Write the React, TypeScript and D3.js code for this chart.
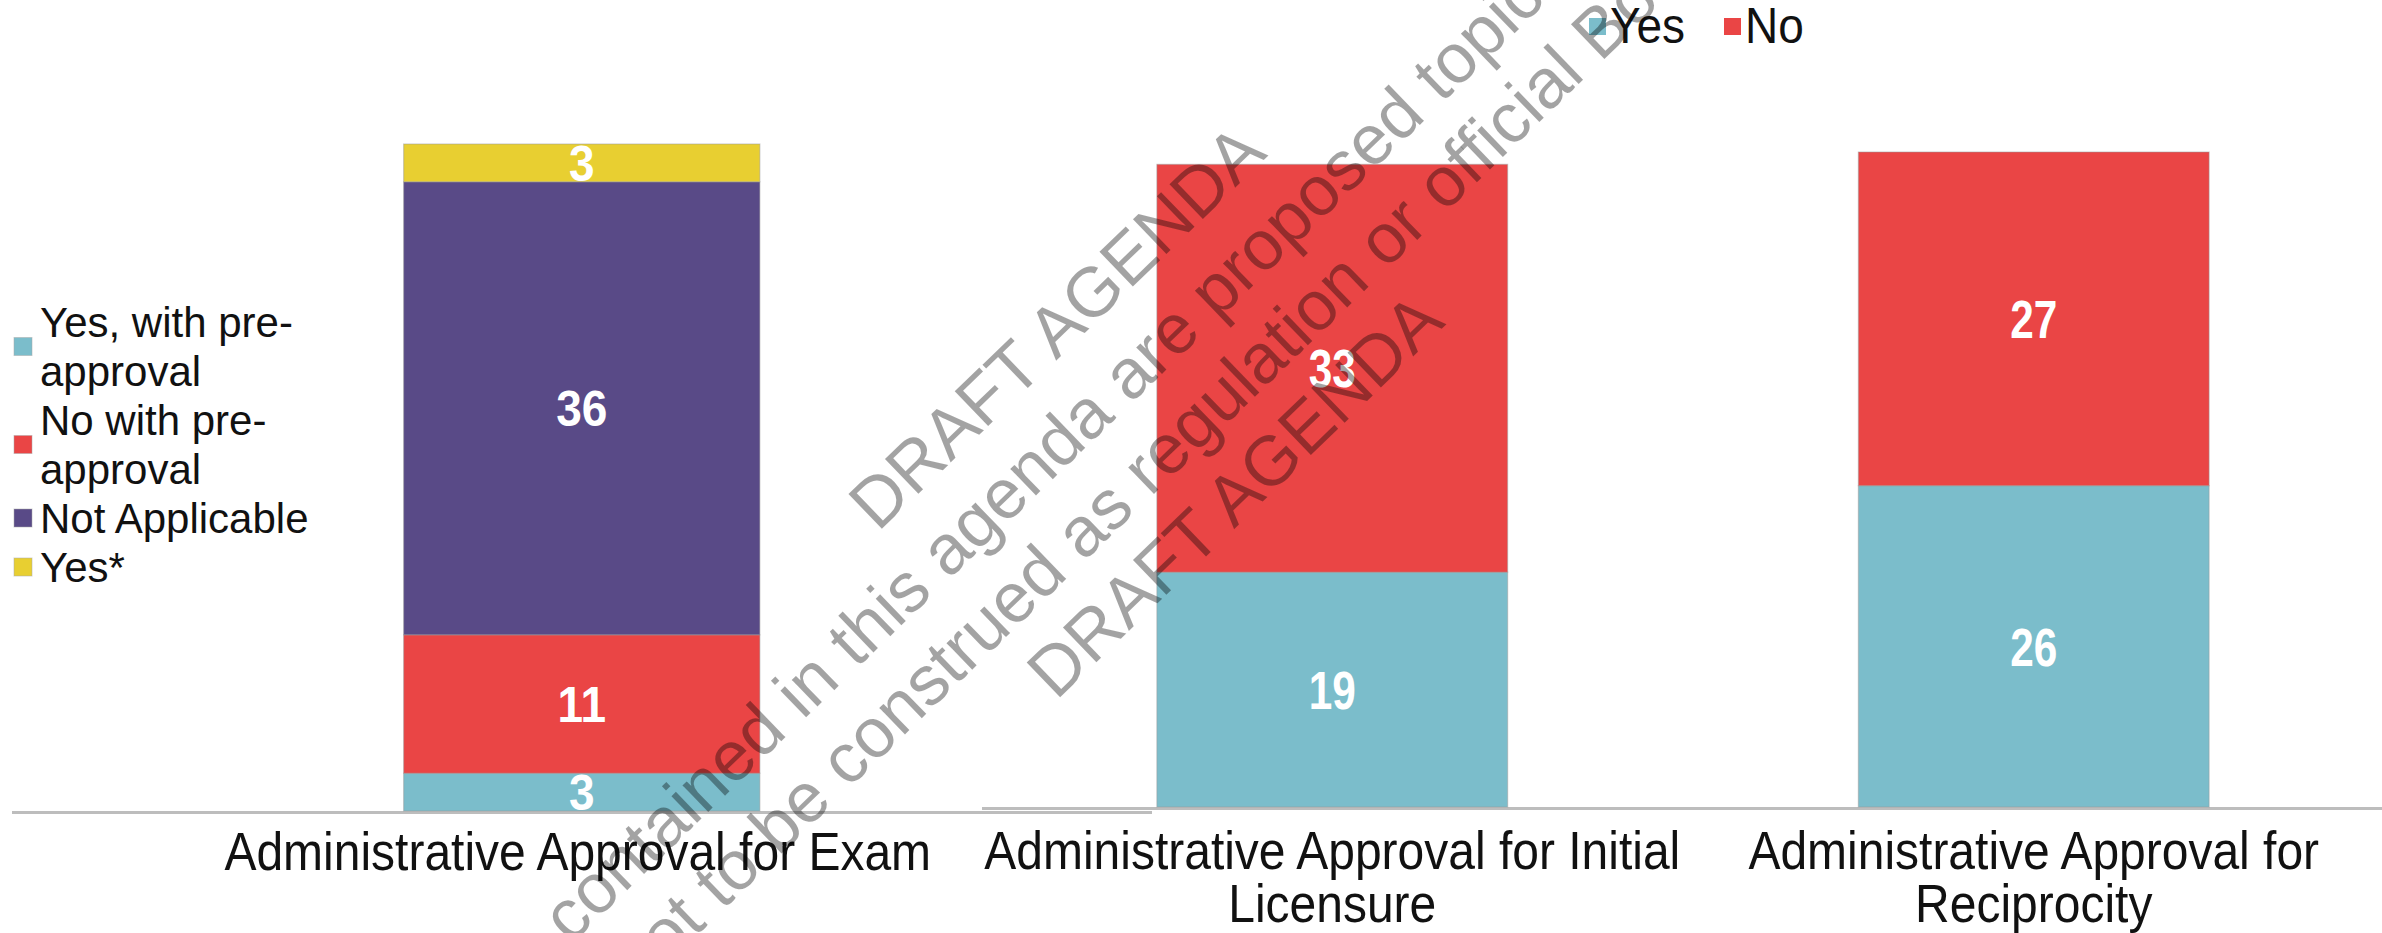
import React from "react";
import * as d3 from "d3";

const W = 2382;
const H = 933;
const FONT = "'Liberation Sans', Arial, Helvetica, sans-serif";

// ---- Left chart data ----
const leftCategories = ["Administrative Approval for Exam"];
const leftSeries = ["Yes, with pre-approval", "No with pre-approval", "Not Applicable", "Yes*"];
const leftYesPre = [3];
const leftNoPre = [11];
const leftNotApplicable = [36];
const leftYesStar = [3];
const leftColors = ["#7BBDCB", "#EA4545", "#594A87", "#E8CF31"];

// ---- Right chart data ----
const rightCategories = [
  ["Administrative Approval for Initial", "Licensure"],
  ["Administrative Approval for", "Reciprocity"],
];
const rightSeries = ["Yes", "No"];
const rightYes = [19, 26];
const rightNo = [33, 27];
const rightColors = ["#7BBDCB", "#EA4545"];

// ---- Watermark text ----
const watermarkLines = [
  "DRAFT AGENDA",
  "contained in this agenda are proposed topics",
  "construed as regulation or official Board action",
  "DRAFT AGENDA",
];
const watermarkPrefixes = ["", "Subjects\u00A0", "and are not to be\u00A0", ""];

function wrapLegend(s: string): string[] {
  const i = s.indexOf("pre-");
  if (i >= 0) return [s.slice(0, i + 4), s.slice(i + 4)];
  return [s];
}

export default function App() {
  // Left chart
  const leftKeys = leftSeries;
  const leftRows = leftCategories.map((c, i) => ({
    cat: c,
    [leftKeys[0]]: leftYesPre[i],
    [leftKeys[1]]: leftNoPre[i],
    [leftKeys[2]]: leftNotApplicable[i],
    [leftKeys[3]]: leftYesStar[i],
  }));
  const leftStack = d3.stack<any>().keys(leftKeys)(leftRows);
  const leftMax = d3.max(leftStack[leftStack.length - 1], (d) => d[1]) as number;
  const xL = d3.scaleBand().domain(leftCategories).range([225.5, 938]).paddingInner(0.5).paddingOuter(0.25);
  const yL = d3.scaleLinear().domain([0, leftMax]).range([811, 144]);

  // Right chart
  const rightNames = rightCategories.map((c) => c.join(" "));
  const rightRows = rightNames.map((c, i) => ({ cat: c, Yes: rightYes[i], No: rightNo[i] }));
  const rightStack = d3.stack<any>().keys(rightSeries)(rightRows);
  const rightMax = d3.max(rightStack[rightStack.length - 1], (d) => d[1]) as number;
  const xR = d3.scaleBand().domain(rightNames).range([981.5, 2384.5]).paddingInner(0.5).paddingOuter(0.25);
  const yR = d3.scaleLinear().domain([0, rightMax]).range([807, 152]);

  const labelScale = 1.1;
  const valueScale = 1.08;

  return (
    <svg
      width={W}
      height={H}
      viewBox={`0 0 ${W} ${H}`}
      style={{ position: "absolute", left: 0, top: 0, display: "block", background: "#fff" }}
      fontFamily={FONT}
    >
      <rect x={0} y={0} width={W} height={H} fill="#fff" />

      {/* Left chart baseline */}
      <line x1={12} x2={1152} y1={812.5} y2={812.5} stroke="#BDBDBD" strokeWidth={3} />
      {/* Right chart baseline */}
      <line x1={982} x2={W} y1={808.5} y2={808.5} stroke="#BDBDBD" strokeWidth={3} />

      {/* Left bars */}
      {leftStack.map((layer, si) => (
        <g key={"L" + si}>
          {layer.map((d: any, ci) => {
            const cat = leftCategories[ci];
            const x = xL(cat) as number;
            const y0 = yL(d[0]);
            const y1 = yL(d[1]);
            return (
              <g key={ci}>
                <rect x={x} y={y1} width={xL.bandwidth()} height={y0 - y1} fill={leftColors[si]} stroke="#9a9a9a" strokeOpacity={0.45} strokeWidth={1.2} />
                <text
                  transform={`translate(${x + xL.bandwidth() / 2},${(y0 + y1) / 2}) scale(1,${valueScale})`}
                  textAnchor="middle"
                  dy="0.36em"
                  fill="#fff"
                  fontWeight="bold"
                  fontSize={46}
                >
                  {d[1] - d[0]}
                </text>
              </g>
            );
          })}
        </g>
      ))}

      {/* Right bars */}
      {rightStack.map((layer, si) => (
        <g key={"R" + si}>
          {layer.map((d: any, ci) => {
            const cat = rightNames[ci];
            const x = xR(cat) as number;
            const y0 = yR(d[0]);
            const y1 = yR(d[1]);
            return (
              <g key={ci}>
                <rect x={x} y={y1} width={xR.bandwidth()} height={y0 - y1} fill={rightColors[si]} stroke="#9a9a9a" strokeOpacity={0.45} strokeWidth={1.2} />
                <text
                  transform={`translate(${x + xR.bandwidth() / 2},${(y0 + y1) / 2}) scale(0.92,${valueScale + 0.08})`}
                  textAnchor="middle"
                  dy="0.36em"
                  fill="#fff"
                  fontWeight="bold"
                  fontSize={46}
                >
                  {d[1] - d[0]}
                </text>
              </g>
            );
          })}
        </g>
      ))}

      {/* Left axis label */}
      {leftCategories.map((c) => (
        <text
          key={c}
          transform={`translate(${(xL(c) as number) + xL.bandwidth() / 2 - 4},870) scale(1,${labelScale})`}
          textAnchor="middle"
          fontSize={48}
          fill="#111"
        >
          {c}
        </text>
      ))}

      {/* Right axis labels */}
      {rightCategories.map((lines, i) => {
        const cx = (xR(rightNames[i]) as number) + xR.bandwidth() / 2;
        return lines.map((ln, li) => (
          <text
            key={i + "-" + li}
            transform={`translate(${cx},${869 + li * 53}) scale(1,${labelScale})`}
            textAnchor="middle"
            fontSize={48}
            fill="#111"
          >
            {ln}
          </text>
        ));
      })}

      {/* Left legend */}
      {(() => {
        let lineIdx = 0;
        return leftSeries.map((s, i) => {
          const lines = wrapLegend(s);
          const first = 337 + lineIdx * 49;
          const last = first + (lines.length - 1) * 49;
          lineIdx += lines.length;
          const cy = (first - 30 + last) / 2;
          return (
            <g key={s}>
              <rect x={14} y={cy - 9} width={18} height={18} fill={leftColors[i]} stroke="#aaa" strokeOpacity={0.5} strokeWidth={1} />
              {lines.map((ln, li) => (
                <text key={li} x={40} y={first + li * 49} fontSize={42} fill="#111">
                  {ln}
                </text>
              ))}
            </g>
          );
        });
      })()}

      {/* Right legend (top) */}
      {rightSeries.map((s, i) => {
        const x0 = i === 0 ? 1589 : 1724;
        return (
          <g key={s}>
            <rect x={x0} y={18} width={17} height={17} fill={rightColors[i]} />
            <text transform={`translate(${x0 + 21},43) scale(1,1.08)`} fontSize={46} fill="#111">
              {s}
            </text>
          </g>
        );
      })}

      {/* Watermark */}
      <g transform="rotate(-44)" fill="#000" fillOpacity={0.36} fontSize={70} fontFamily={FONT}>
        <text x={533} y={993} textAnchor="middle">{watermarkLines[0]}</text>
        <text x={-246} y={1076} textAnchor="end">{watermarkPrefixes[1]}</text>
        <text x={-246} y={1076}>{watermarkLines[1]}</text>
        <text x={62} y={1157} textAnchor="end">{watermarkPrefixes[2]}</text>
        <text x={62} y={1157}>{watermarkLines[2]}</text>
        <text x={544} y={1238} textAnchor="middle">{watermarkLines[3]}</text>
      </g>
    </svg>
  );
}
